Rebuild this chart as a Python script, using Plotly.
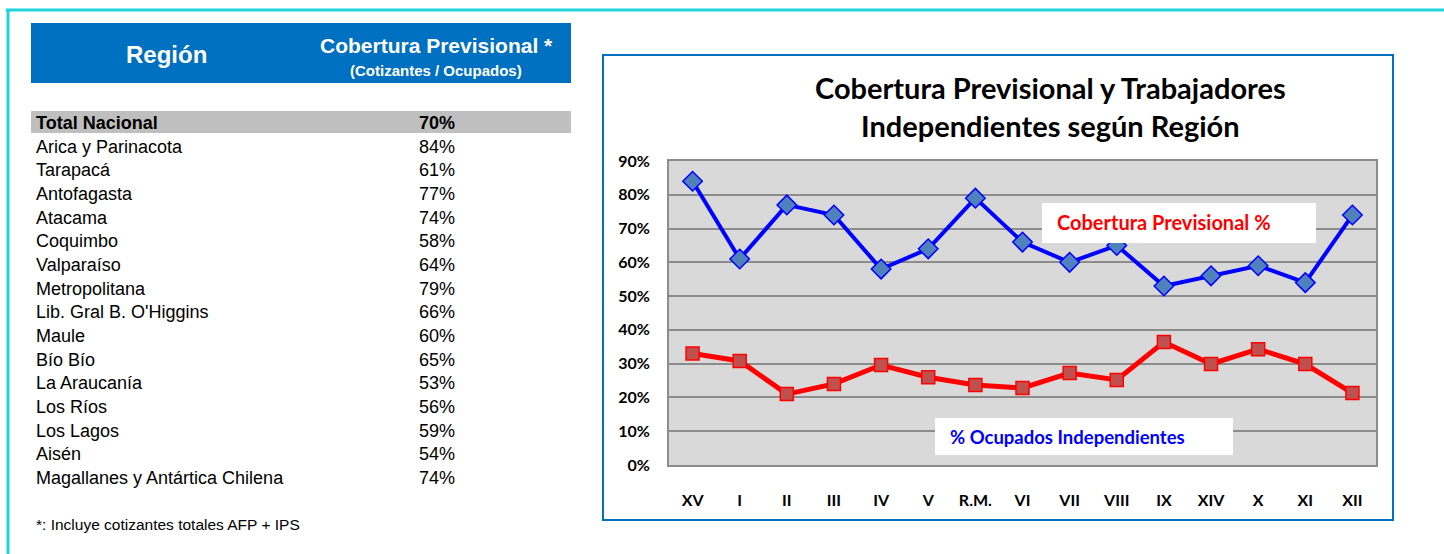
import plotly.graph_objects as go

# ---------------- data ----------------
chart_regions = ["XV", "I", "II", "III", "IV", "V", "R.M.", "VI", "VII", "VIII",
                 "IX", "XIV", "X", "XI", "XII"]
cobertura_pct = [84, 61, 77, 74, 58, 64, 79, 66, 60, 65, 53, 56, 59, 54, 74]
independientes_pct = [33, 30.8, 21, 24, 29.6, 26, 23.7, 22.8, 27.2, 25.2,
                      36.4, 29.9, 34.3, 29.9, 21.3]
y_tick_vals = [0, 10, 20, 30, 40, 50, 60, 70, 80, 90]
y_tick_text = ["0%", "10%", "20%", "30%", "40%", "50%", "60%", "70%", "80%", "90%"]

table_regions = ["Total Nacional", "Arica y Parinacota", "Tarapacá", "Antofagasta",
                 "Atacama", "Coquimbo", "Valparaíso", "Metropolitana",
                 "Lib. Gral B. O'Higgins", "Maule", "Bío Bío", "La Araucanía",
                 "Los Ríos", "Los Lagos", "Aisén", "Magallanes y Antártica Chilena"]
table_values = ["70%", "84%", "61%", "77%", "74%", "58%", "64%", "79%", "66%",
                "60%", "65%", "53%", "56%", "59%", "54%", "74%"]

header_region = "Región"
header_cob = "Cobertura Previsional *"
header_sub = "(Cotizantes / Ocupados)"
footnote = "*: Incluye cotizantes totales AFP + IPS"
chart_title = "Cobertura Previsional y Trabajadores<br>Independientes según Región"
label_cob = "Cobertura Previsional %"
label_ind = "% Ocupados Independientes"

# ---------------- layout helpers ----------------
W, H = 1444, 554
def px(x):
    return x / W
def py(y):
    return 1 - y / H

CHART_FONT = "Lato, Carlito, Liberation Sans, sans-serif"
TABLE_FONT = "Liberation Sans, Arial, sans-serif"

fig = go.Figure()

fig.add_trace(go.Scatter(
    x=chart_regions, y=cobertura_pct, mode="lines+markers",
    line=dict(color="#0000FF", width=4),
    marker=dict(symbol="diamond", size=15, color="#4F81BD",
                line=dict(color="#0000FF", width=1.5)),
    showlegend=False, cliponaxis=False,
))
fig.add_trace(go.Scatter(
    x=chart_regions, y=independientes_pct, mode="lines+markers",
    line=dict(color="#FF0000", width=5),
    marker=dict(symbol="square", size=13, color="#C0504D",
                line=dict(color="#FF0000", width=1.5)),
    showlegend=False, cliponaxis=False,
))

shapes = []
# cyan page frame
shapes.append(dict(type="line", xref="paper", yref="paper",
                   x0=px(6), x1=px(1444), y0=py(10), y1=py(10),
                   line=dict(color="#1CD3DE", width=3)))
shapes.append(dict(type="line", xref="paper", yref="paper",
                   x0=px(8), x1=px(8), y0=py(10), y1=py(554),
                   line=dict(color="#1CD3DE", width=3)))
# table header
shapes.append(dict(type="rect", xref="paper", yref="paper",
                   x0=px(31), x1=px(571), y0=py(83), y1=py(23),
                   fillcolor="#0070C0", line=dict(width=0), layer="below"))
# total row
shapes.append(dict(type="rect", xref="paper", yref="paper",
                   x0=px(31), x1=px(571), y0=py(133), y1=py(111),
                   fillcolor="#BFBFBF", line=dict(width=0), layer="below"))
# chart frame
shapes.append(dict(type="rect", xref="paper", yref="paper",
                   x0=px(603), x1=px(1393), y0=py(520), y1=py(55),
                   fillcolor="rgba(0,0,0,0)", line=dict(color="#0070C0", width=2),
                   layer="below"))
# label boxes
shapes.append(dict(type="rect", xref="paper", yref="paper",
                   x0=px(1042), x1=px(1316), y0=py(243), y1=py(203),
                   fillcolor="white", line=dict(width=0), layer="above"))
shapes.append(dict(type="rect", xref="paper", yref="paper",
                   x0=px(935), x1=px(1233), y0=py(455), y1=py(418),
                   fillcolor="white", line=dict(width=0), layer="above"))

annotations = []
annotations.append(dict(xref="paper", yref="paper", x=px(166), y=py(54),
                        text="<b>%s</b>" % header_region, showarrow=False,
                        xanchor="center", yanchor="middle",
                        font=dict(family=TABLE_FONT, size=24, color="white")))
annotations.append(dict(xref="paper", yref="paper", x=px(436), y=py(45),
                        text="<b>%s</b>" % header_cob, showarrow=False,
                        xanchor="center", yanchor="middle",
                        font=dict(family=TABLE_FONT, size=21, color="white")))
annotations.append(dict(xref="paper", yref="paper", x=px(436), y=py(70),
                        text="<b>%s</b>" % header_sub, showarrow=False,
                        xanchor="center", yanchor="middle",
                        font=dict(family=TABLE_FONT, size=15, color="white")))
for i, (name, val) in enumerate(zip(table_regions, table_values)):
    yy = 123 + i * 23.67
    t_name = "<b>%s</b>" % name if i == 0 else name
    t_val = "<b>%s</b>" % val if i == 0 else val
    annotations.append(dict(xref="paper", yref="paper", x=px(34), y=py(yy),
                            text=t_name, showarrow=False, xanchor="left",
                            yanchor="middle",
                            font=dict(family=TABLE_FONT, size=18, color="black")))
    annotations.append(dict(xref="paper", yref="paper", x=px(417), y=py(yy),
                            text=t_val, showarrow=False, xanchor="left",
                            yanchor="middle",
                            font=dict(family=TABLE_FONT, size=18, color="black")))
annotations.append(dict(xref="paper", yref="paper", x=px(34), y=py(524),
                        text=footnote, showarrow=False, xanchor="left",
                        yanchor="middle",
                        font=dict(family=TABLE_FONT, size=15.5, color="black")))
# chart title
annotations.append(dict(xref="paper", yref="paper", x=px(1050), y=py(107),
                        text="<b>%s</b>" % chart_title, showarrow=False,
                        xanchor="center", yanchor="middle",
                        font=dict(family=CHART_FONT, size=29, color="black")))
annotations.append(dict(xref="paper", yref="paper", x=px(1055), y=py(222),
                        text="<b>%s</b>" % label_cob, showarrow=False,
                        xanchor="left", yanchor="middle",
                        font=dict(family=CHART_FONT, size=20, color="#FF0000")))
annotations.append(dict(xref="paper", yref="paper", x=px(948), y=py(437),
                        text="<b>%s</b>" % label_ind, showarrow=False,
                        xanchor="left", yanchor="middle",
                        font=dict(family=CHART_FONT, size=18.5, color="#0000FF")))

fig.update_layout(
    width=W, height=H, margin=dict(l=0, r=0, t=0, b=0, autoexpand=False),
    paper_bgcolor="white", plot_bgcolor="#D9D9D9",
    shapes=shapes, annotations=annotations,
    xaxis=dict(domain=[px(669), px(1376)], type="category",
               range=[-0.5, len(chart_regions) - 0.5],
               showgrid=False, showline=True, linecolor="#8C8C8C", linewidth=2,
               mirror=True, ticks="", ticklabelstandoff=20,
               tickfont=dict(family=CHART_FONT, size=16, color="black", weight="bold")),
    yaxis=dict(domain=[py(465), py(161)], range=[0, 90],
               tickvals=y_tick_vals, ticktext=y_tick_text,
               showgrid=True, gridcolor="#8C8C8C", gridwidth=2,
               showline=True, linecolor="#8C8C8C", linewidth=2, mirror=True,
               zeroline=False, ticks="", ticklabelstandoff=14,
               tickfont=dict(family=CHART_FONT, size=16, color="black", weight="bold")),
)

fig.write_html(
    "out.html",
    config={"displayModeBar": False},
    post_script="document.body.style.margin='0';document.body.style.overflow='hidden';"
                "document.documentElement.style.overflow='hidden';",
)
